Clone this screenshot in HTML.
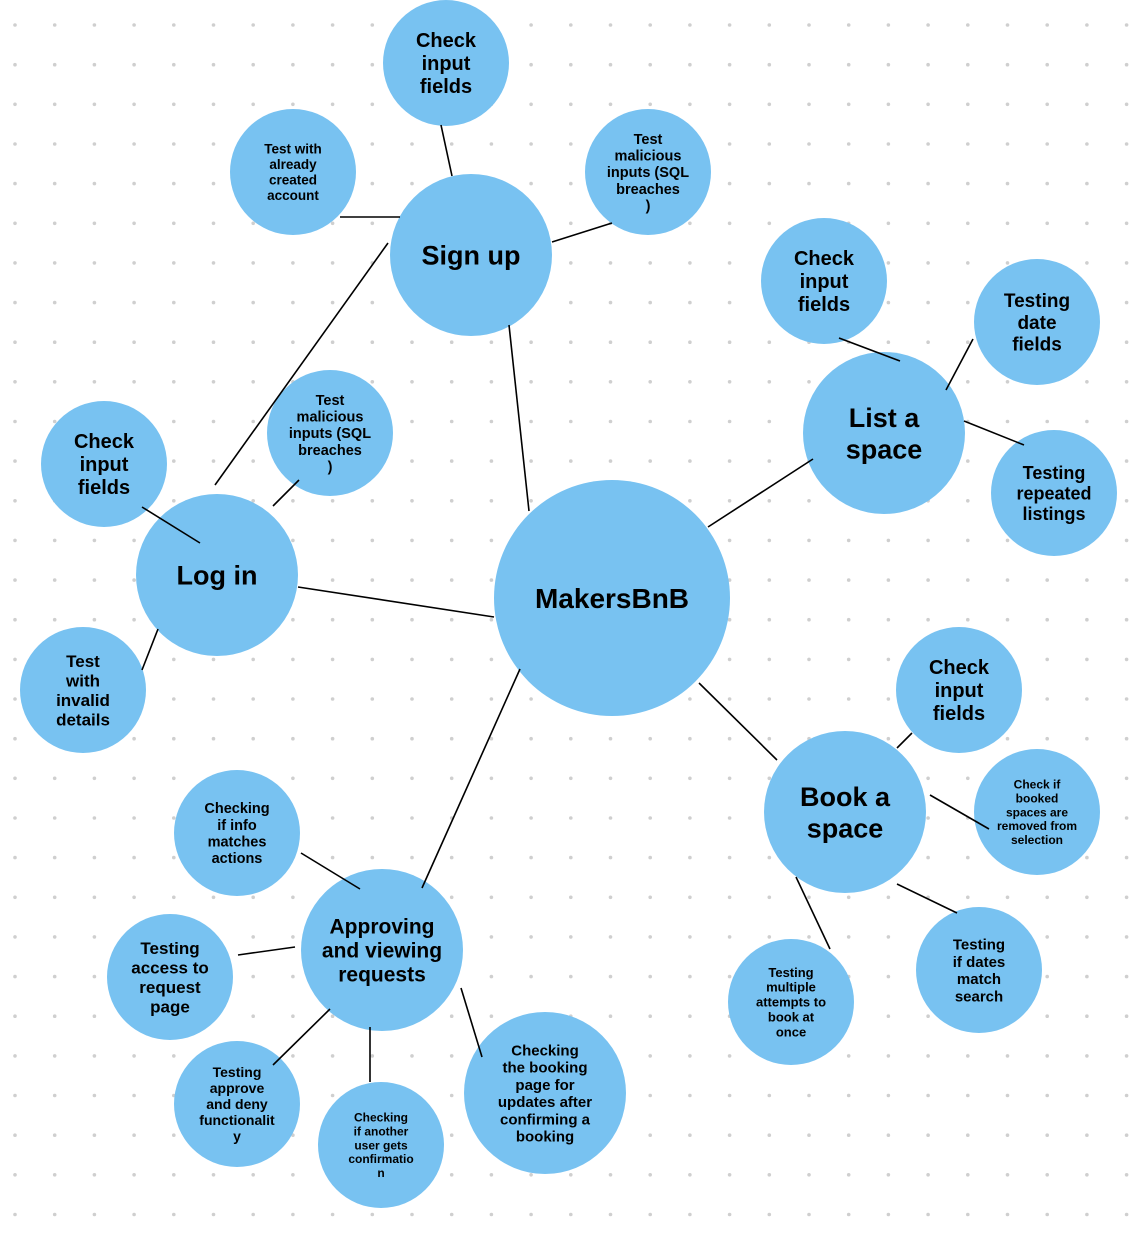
<!DOCTYPE html>
<html><head><meta charset="utf-8">
<style>
html,body{margin:0;padding:0;background:#fff;}
svg{display:block;}
text{font-family:"Liberation Sans",sans-serif;font-weight:bold;fill:#000;}
</style></head>
<body>
<svg id="map" width="1134" height="1237" viewBox="0 0 1134 1237" xmlns="http://www.w3.org/2000/svg">
<g id="dots"></g>
<g id="nodes"></g>
<g id="edges" stroke="#000" stroke-width="1.6"></g>
</svg>
<script>
const nodeIds=["main","signup","login","list","book","approve","su1","su2","su3","ls1","ls2","ls3","li1","li2","li3","bk1","bk2","bk3","bk4","ap1","ap2","ap3","ap4","ap5"];
const nodeX=[612,471,217,884,845,382,446,293,648,824,1037,1054,104,330,83,959,1037,979,791,237,170,237,381,545];
const nodeY=[598,255,575,433,812,950,63,172,172,281,322,493,464,433,690,690,812,970,1002,833,977,1104,1145,1093];
const nodeR=[118,81,81,81,81,81,63,63,63,63,63,63,63,63,63,63,63,63,63,63,63,63,63,81];
const nodeFont=[28,27,27,27,27,21,20,13.5,14.5,20,19,18,20,14.5,17,20,12,15,13,14.5,17,14,12,15];
const nodeLines=[
["MakersBnB"],["Sign up"],["Log in"],["List a","space"],["Book a","space"],["Approving","and viewing","requests"],
["Check","input","fields"],["Test with","already","created","account"],["Test","malicious","inputs (SQL","breaches",")"],
["Check","input","fields"],["Testing","date","fields"],["Testing","repeated","listings"],
["Check","input","fields"],["Test","malicious","inputs (SQL","breaches",")"],["Test","with","invalid","details"],
["Check","input","fields"],["Check if","booked","spaces are","removed from","selection"],["Testing","if dates","match","search"],
["Testing","multiple","attempts to","book at","once"],
["Checking","if info","matches","actions"],["Testing","access to","request","page"],["Testing","approve","and deny","functionalit","y"],
["Checking","if another","user gets","confirmatio","n"],["Checking","the booking","page for","updates after","confirming a","booking"]
];
const edgeX1=[529,215,298,708,699,422,452,340,552,900,946,964,200,273,158,897,930,796,897,360,238,330,370,461];
const edgeY1=[511,485,587,527,683,888,176,217,242,361,390,421,543,506,629,748,795,877,884,889,955,1009,1027,988];
const edgeX2=[509,388,494,813,777,520,441,400,612,839,973,1024,142,299,142,912,989,830,957,301,295,273,370,482];
const edgeY2=[325,243,617,459,760,669,125,217,223,338,339,445,507,480,670,733,829,949,913,853,947,1065,1082,1057];
const NS="http://www.w3.org/2000/svg";
const dots=document.getElementById('dots');
for(let y=25;y<1237;y+=39.65){for(let x=15;x<1134;x+=39.7){
 const c=document.createElementNS(NS,'circle');
 c.setAttribute('cx',x.toFixed(1));c.setAttribute('cy',y.toFixed(1));c.setAttribute('r','1.8');c.setAttribute('fill','#cfcfcf');
 
 
 dots.appendChild(c);}}
const ng=document.getElementById('nodes');
nodeIds.forEach((id,i)=>{
 const g=document.createElementNS(NS,'g');
 
 
 const c=document.createElementNS(NS,'circle');
 c.setAttribute('cx',nodeX[i]);c.setAttribute('cy',nodeY[i]);c.setAttribute('r',nodeR[i]);c.setAttribute('fill','#78c2f1');
 
 
 g.appendChild(c);
 const fs=nodeFont[i],lh=fs*(fs>=25?1.18:1.15),n=nodeLines[i].length;
 nodeLines[i].forEach((t,k)=>{
  const tx=document.createElementNS(NS,'text');
  tx.setAttribute('x',nodeX[i]);
  tx.setAttribute('y',(nodeY[i]+(k-(n-1)/2)*lh+fs*0.36).toFixed(1));
  tx.setAttribute('text-anchor','middle');tx.setAttribute('font-size',fs);
  
  
  tx.textContent=t;g.appendChild(tx);});
 ng.appendChild(g);});
const eg=document.getElementById('edges');
edgeX1.forEach((x,i)=>{
 const l=document.createElementNS(NS,'line');
 l.setAttribute('x1',x);l.setAttribute('y1',edgeY1[i]);l.setAttribute('x2',edgeX2[i]);l.setAttribute('y2',edgeY2[i]);
 
 
 eg.appendChild(l);});
</script>
</body></html>
